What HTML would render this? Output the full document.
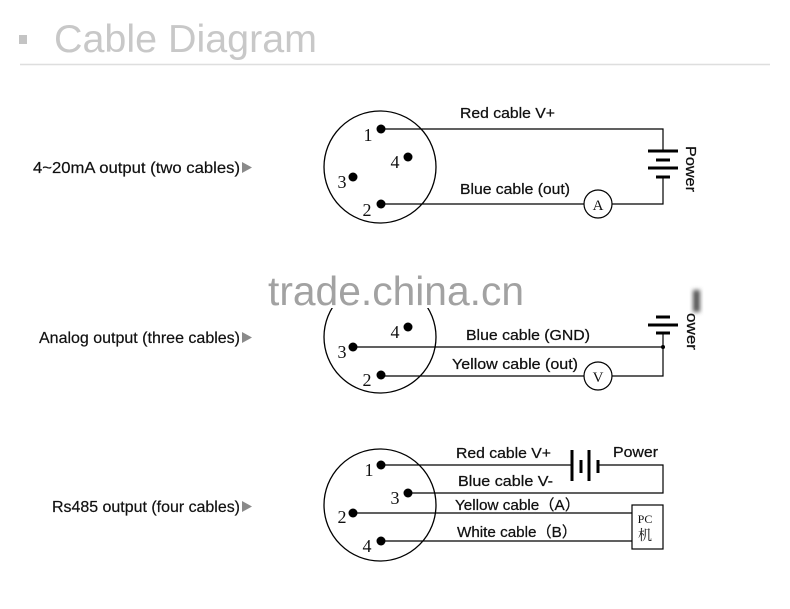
<!DOCTYPE html>
<html><head><meta charset="utf-8"><style>
html,body{margin:0;padding:0;background:#fff;}
svg{display:block;}
.s{font-family:"Liberation Sans",Arial,sans-serif;}
.r{font-family:"Liberation Serif","Times New Roman",serif;}
.c{font-family:"Liberation Sans","Noto Sans CJK SC",sans-serif;}
</style></head><body>
<svg width="790" height="609" viewBox="0 0 790 609" xmlns="http://www.w3.org/2000/svg">
<defs>
<filter id="bl" x="-50%" y="-50%" width="200%" height="200%"><feGaussianBlur stdDeviation="2"/></filter>
</defs>
<rect width="790" height="609" fill="#fff"/>
<!-- title -->
<rect x="19" y="35" width="8" height="9" fill="#c4c4c4"/>
<text x="54" y="52" class="s" font-size="39" fill="#c8c8c8" textLength="263" lengthAdjust="spacingAndGlyphs">Cable Diagram</text>
<line x1="20" y1="64.5" x2="770" y2="64.5" stroke="#dedede" stroke-width="1.5"/>

<!-- left labels -->
<g class="s" font-size="16" fill="#111" stroke="#111" stroke-width="0.2">
<text x="33" y="173" textLength="207" lengthAdjust="spacingAndGlyphs">4~20mA output (two cables)</text>
<text x="39" y="343" textLength="201" lengthAdjust="spacingAndGlyphs">Analog output (three cables)</text>
<text x="52" y="512" textLength="188" lengthAdjust="spacingAndGlyphs">Rs485 output (four cables)</text>
</g>
<g fill="#8a8a8a">
<polygon points="242,162 252,167.5 242,173"/>
<polygon points="242,332 252,337.5 242,343"/>
<polygon points="242,501 252,506.5 242,512"/>
</g>

<!-- Diagram 1 -->
<g stroke="#000" fill="none">
<circle cx="380" cy="167" r="56" stroke-width="1.3"/>
<polyline points="381,129 663,129 663,151" stroke-width="1.2"/>
<polyline points="381,204 584,204" stroke-width="1.2"/>
<polyline points="612,204 663,204 663,177" stroke-width="1.2"/>
<circle cx="598" cy="204" r="14" stroke-width="1.2" fill="#fff"/>
<line x1="648" y1="151" x2="678" y2="151" stroke-width="3"/>
<line x1="656" y1="160" x2="670" y2="160" stroke-width="3"/>
<line x1="648" y1="168" x2="678" y2="168" stroke-width="3"/>
<line x1="656" y1="177" x2="670" y2="177" stroke-width="3"/>
</g>
<g fill="#000">
<circle cx="381" cy="129" r="4.5"/>
<circle cx="408" cy="157" r="4.5"/>
<circle cx="353" cy="177" r="4.5"/>
<circle cx="381" cy="204" r="4.5"/>
</g>
<g class="r" font-size="18" fill="#111" text-anchor="middle">
<text x="368" y="141">1</text>
<text x="395" y="168">4</text>
<text x="342" y="188">3</text>
<text x="367" y="216">2</text>
<text x="598" y="210" font-size="15">A</text>
</g>
<g class="s" font-size="15" fill="#111" stroke="#111" stroke-width="0.25">
<text x="460" y="118" textLength="95" lengthAdjust="spacingAndGlyphs">Red cable V+</text>
<text x="460" y="194" textLength="110" lengthAdjust="spacingAndGlyphs">Blue cable (out)</text>
<text x="686" y="146" transform="rotate(90 686 146)" textLength="46" lengthAdjust="spacingAndGlyphs">Power</text>
</g>

<!-- Diagram 2 -->
<g stroke="#000" fill="none">
<circle cx="380" cy="337" r="56" stroke-width="1.3"/>
<polyline points="353,347 663,347" stroke-width="1.2"/>
<polyline points="663,333 663,376 612,376" stroke-width="1.2"/>
<polyline points="584,376 381,376" stroke-width="1.2"/>
<circle cx="598" cy="376" r="14" stroke-width="1.2" fill="#fff"/>
<line x1="656" y1="317" x2="670" y2="317" stroke-width="3"/>
<line x1="648" y1="325" x2="678" y2="325" stroke-width="3"/>
<line x1="656" y1="333" x2="670" y2="333" stroke-width="3"/>
</g>
<g fill="#000">
<circle cx="408" cy="327" r="4.5"/>
<circle cx="353" cy="347" r="4.5"/>
<circle cx="381" cy="375" r="4.5"/>
<circle cx="663" cy="347" r="2"/>
</g>
<!-- watermark cover -->
<rect x="262" y="266" width="268" height="42" fill="#fff"/>
<text x="268" y="305" class="s" font-size="41" fill="#a2a2a2" textLength="256" lengthAdjust="spacingAndGlyphs">trade.china.cn</text>
<rect x="693" y="290" width="7" height="22" fill="#555" filter="url(#bl)"/>
<g class="r" font-size="18" fill="#111" text-anchor="middle">
<text x="395" y="338">4</text>
<text x="342" y="358">3</text>
<text x="367" y="386">2</text>
<text x="598" y="382" font-size="15">V</text>
</g>
<g class="s" font-size="15" fill="#111" stroke="#111" stroke-width="0.25">
<text x="466" y="340" textLength="124" lengthAdjust="spacingAndGlyphs">Blue cable (GND)</text>
<text x="452" y="369" textLength="126" lengthAdjust="spacingAndGlyphs">Yellow cable (out)</text>
<text x="687" y="313" transform="rotate(90 687 313)" textLength="37" lengthAdjust="spacingAndGlyphs">ower</text>
</g>

<!-- Diagram 3 -->
<g stroke="#000" fill="none">
<circle cx="380" cy="505" r="56" stroke-width="1.3"/>
<line x1="381" y1="465" x2="572" y2="465" stroke-width="1.2"/>
<polyline points="598,465 663,465 663,493 408,493" stroke-width="1.2"/>
<line x1="353" y1="513" x2="632" y2="513" stroke-width="1.2"/>
<line x1="381" y1="541" x2="632" y2="541" stroke-width="1.2"/>
<rect x="632" y="505" width="31" height="44" stroke-width="1.2"/>
<line x1="572" y1="450" x2="572" y2="481" stroke-width="3"/>
<line x1="581" y1="460" x2="581" y2="473" stroke-width="3"/>
<line x1="589" y1="450" x2="589" y2="481" stroke-width="3"/>
<line x1="598" y1="460" x2="598" y2="473" stroke-width="3"/>
</g>
<g fill="#000">
<circle cx="381" cy="465" r="4.5"/>
<circle cx="408" cy="493" r="4.5"/>
<circle cx="353" cy="513" r="4.5"/>
<circle cx="381" cy="541" r="4.5"/>
</g>
<g class="r" font-size="18" fill="#111" text-anchor="middle">
<text x="369" y="476">1</text>
<text x="395" y="504">3</text>
<text x="342" y="523">2</text>
<text x="367" y="552">4</text>
<text x="645" y="523" font-size="12">PC</text>
</g>
<text x="645" y="540" font-family="'Noto Serif CJK SC','Noto Sans CJK SC',serif" font-size="14" fill="#111" text-anchor="middle">机</text>
<g class="c" font-size="15" fill="#111" stroke="#111" stroke-width="0.25">
<text x="456" y="458" textLength="95" lengthAdjust="spacingAndGlyphs">Red cable V+</text>
<text x="458" y="486" textLength="95" lengthAdjust="spacingAndGlyphs">Blue cable V-</text>
<text x="455" y="510" textLength="125" lengthAdjust="spacingAndGlyphs">Yellow cable（A）</text>
<text x="457" y="537" textLength="120" lengthAdjust="spacingAndGlyphs">White cable（B）</text>
<text x="613" y="457" textLength="45" lengthAdjust="spacingAndGlyphs">Power</text>
</g>
</svg>
</body></html>
